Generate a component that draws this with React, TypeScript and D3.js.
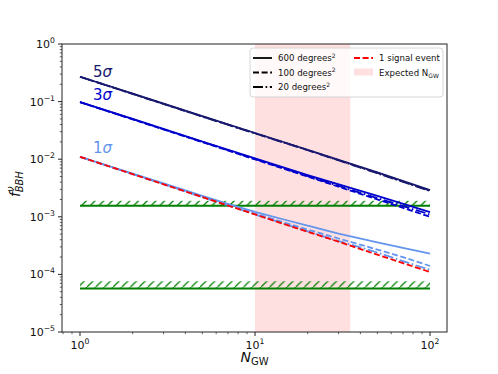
import React from "react";
import * as d3 from "d3";

// ---- data ----
const N = [1, 2, 5, 10, 20, 50, 100];
const Nfine = [1, 2, 3, 5, 7, 10, 15, 20, 30, 50, 70, 100];
const sig5_600 = [0.27, 0.137, 0.056, 0.0285, 0.0146, 0.0059, 0.0029];
const sig5_100 = [0.27, 0.136, 0.055, 0.0282, 0.0144, 0.0058, 0.00285];
const sig5_20 = [0.27, 0.136, 0.055, 0.028, 0.0143, 0.0057, 0.0028];
const sig3_600 = [0.098, 0.05, 0.0203, 0.0103, 0.0053, 0.0023, 0.00121];
const sig3_100 = [0.098, 0.049, 0.0198, 0.0099, 0.005, 0.002, 0.001];
const sig3_20 = [0.098, 0.0495, 0.02, 0.0101, 0.0051, 0.0021, 0.0011];
const sig1_600 = [0.011, 0.0056, 0.0038, 0.0023, 0.00168, 0.00122, 0.00088, 0.0007, 0.00051, 0.00036, 0.00029, 0.00023];
const sig1_100 = [0.011, 0.0055, 0.0037, 0.0022, 0.0016, 0.00113, 0.00078, 0.0006, 0.00042, 0.00027, 0.0002, 0.00014];
const sig1_20 = [0.011, 0.0055, 0.0037, 0.0022, 0.00158, 0.0011, 0.00074, 0.00056, 0.00038, 0.00024, 0.00017, 0.00012];
const oneEvent = [0.011, 0.0055, 0.00367, 0.0022, 0.00157, 0.0011, 0.00073, 0.00055, 0.00037, 0.00022, 0.000157, 0.00011];
const bandUpper = [1.55e-3, 1.9e-3];
const bandLower = [5.7e-5, 7.6e-5];
const bandN = [1, 100];
const expectedN = [10, 35];
const xMajor = [1, 10, 100];
const yMajor = [1e-5, 1e-4, 1e-3, 1e-2, 1e-1, 1];
const sigmaNums = ["5", "3", "1"];

const FONT = "DejaVu Sans, sans-serif";
const L = 62, R = 447, T = 44, B = 332;

export default function App() {
  const x = d3.scaleLog().domain([0.789, 125]).range([L, R]);
  const y = d3.scaleLog().domain([1e-5, 1]).range([B, T]);
  const mkLine = (xs: number[]) =>
    d3
      .line<number>()
      .x((_, i) => x(xs[i]))
      .y((d) => y(d));
  const line = mkLine(N);
  const lineFine = mkLine(Nfine);

  const dashed = "6,2.6";
  const dashdot = "10,2.6,1.6,2.6";
  const c5 = "#191970";
  const c3 = "#0000cd";
  const c1 = "#6495ed";

  const series = [
    { d: sig5_600, c: c5, dash: undefined, f: line },
    { d: sig5_100, c: c5, dash: dashed, f: line },
    { d: sig5_20, c: c5, dash: dashdot, f: line },
    { d: sig3_600, c: c3, dash: undefined, f: line },
    { d: sig3_100, c: c3, dash: dashed, f: line },
    { d: sig3_20, c: c3, dash: dashdot, f: line },
    { d: sig1_600, c: c1, dash: undefined, f: lineFine },
    { d: sig1_100, c: c1, dash: dashed, f: lineFine },
    { d: sig1_20, c: c1, dash: dashdot, f: lineFine },
  ];

  const xMinor: number[] = [];
  for (let e = -1; e <= 2; e++)
    for (let m = 2; m <= 9; m++) {
      const v = m * Math.pow(10, e);
      if (v >= 0.789 && v <= 125) xMinor.push(v);
    }
  const yMinor: number[] = [];
  for (let e = -5; e <= -1; e++)
    for (let m = 2; m <= 9; m++) yMinor.push(m * Math.pow(10, e));

  const supStr = (v: number) => {
    const e = Math.round(Math.log10(v));
    return e < 0 ? "\u2212" + Math.abs(e) : String(e);
  };

  const bands = [bandUpper, bandLower];

  return (
    <svg width={498} height={374} style={{ display: "block", position: "absolute", left: 0, top: 0 }} fontFamily={FONT}>
      <defs>
        <pattern id="hatch" patternUnits="userSpaceOnUse" width={8.7} height={8.7}>
          <line x1={-1} y1={9.7} x2={9.7} y2={-1} stroke="#008000" strokeWidth={1.2} />
        </pattern>
        <clipPath id="plotclip">
          <rect x={L} y={T} width={R - L} height={B - T} />
        </clipPath>
      </defs>
      <rect x={0} y={0} width={498} height={374} fill="white" />
      <g clipPath="url(#plotclip)">
        <rect
          x={x(expectedN[0])}
          y={T}
          width={x(expectedN[1]) - x(expectedN[0])}
          height={B - T}
          fill="#ffe0e0"
        />
        {bands.map((b, i) => (
          <g key={i}>
            <rect
              x={x(bandN[0])}
              y={y(b[1])}
              width={x(bandN[1]) - x(bandN[0])}
              height={y(b[0]) - y(b[1])}
              fill="url(#hatch)"
            />
            <line x1={x(bandN[0])} x2={x(bandN[1])} y1={y(b[0])} y2={y(b[0])} stroke="#008000" strokeWidth={2} />
          </g>
        ))}
        {series.map((s, i) => (
          <path key={i} d={s.f(s.d) || ""} fill="none" stroke={s.c} strokeWidth={1.8} strokeDasharray={s.dash} />
        ))}
        <path d={lineFine(oneEvent) || ""} fill="none" stroke="#ff0000" strokeWidth={1.8} strokeDasharray={dashed} />
      </g>
      {/* sigma labels */}
      {[sig5_600, sig3_600, sig1_600].map((s, i) => (
        <text
          key={i}
          x={x(N[0]) + 13}
          y={y(s[0]) + [0, -2, -4][i]}
          fontSize={15}
          fill={[c5, c3, c1][i]}
        >
          {sigmaNums[i]}
          <tspan fontStyle="italic">σ</tspan>
        </text>
      ))}
      {/* frame */}
      <rect x={L} y={T} width={R - L} height={B - T} fill="none" stroke="#222" strokeWidth={1} />
      {/* x ticks */}
      {xMajor.map((v) => (
        <g key={"xm" + v}>
          <line x1={x(v)} x2={x(v)} y1={B} y2={B + 4} stroke="#222" />
          <text x={x(v)} y={B + 17} textAnchor="middle" fontSize={11} fill="#111">
            10
            <tspan fontSize={7.7} dy={-5}>{supStr(v)}</tspan>
          </text>
        </g>
      ))}
      {xMinor.map((v) => (
        <line key={"xn" + v} x1={x(v)} x2={x(v)} y1={B} y2={B + 2.2} stroke="#222" strokeWidth={0.7} />
      ))}
      {/* y ticks */}
      {yMajor.map((v) => (
        <g key={"ym" + v}>
          <line x1={L} x2={L - 4} y1={y(v)} y2={y(v)} stroke="#222" />
          <text x={L - 7} y={y(v) + 4} textAnchor="end" fontSize={11} fill="#111">
            10
            <tspan fontSize={7.7} dy={-5}>{supStr(v)}</tspan>
          </text>
        </g>
      ))}
      {yMinor.map((v) => (
        <line key={"yn" + v} x1={L} x2={L - 2.2} y1={y(v)} y2={y(v)} stroke="#222" strokeWidth={0.7} />
      ))}
      {/* axis labels */}
      <text x={(L + R) / 2} y={362} textAnchor="middle" fontSize={14} fill="#111">
        <tspan fontStyle="italic">N</tspan>
        <tspan fontSize={10} dy={3}>GW</tspan>
      </text>
      <text transform={`translate(20, ${(T + B) / 2 - 4}) rotate(-90)`} textAnchor="middle" fontSize={14} fill="#111">
        <tspan fontStyle="italic">f</tspan>
        <tspan fontStyle="italic" fontSize={10} dy={-6}>ν</tspan>
        <tspan fontStyle="italic" fontSize={10} dx={-6} dy={9}>BBH</tspan>
      </text>
      {/* legend */}
      <g>
        <rect x={250} y={48} width={193} height={49} rx={3} fill="white" fillOpacity={0.8} stroke="#cccccc" strokeWidth={0.8} />
        {[
          { dash: undefined, label: "600 degrees" },
          { dash: dashed, label: "100 degrees" },
          { dash: dashdot, label: "20 degrees" },
        ].map((e, i) => (
          <g key={i}>
            <line x1={253} x2={272} y1={58 + i * 14.5} y2={58 + i * 14.5} stroke="black" strokeWidth={1.8} strokeDasharray={e.dash} />
            <text x={278} y={58 + i * 14.5 + 3} fontSize={8.6} fill="#111">
              {e.label}
              <tspan fontSize={6} dy={-3.5}>2</tspan>
            </text>
          </g>
        ))}
        <line x1={354} x2={373} y1={58} y2={58} stroke="#ff0000" strokeWidth={1.8} strokeDasharray={dashed} />
        <text x={379} y={61} fontSize={8.6} fill="#111">1 signal event</text>
        <rect x={354} y={68.5} width={19} height={7} fill="#ffe0e0" />
        <text x={379} y={75.5} fontSize={8.6} fill="#111">
          Expected N<tspan fontSize={6} dy={2}>GW</tspan>
        </text>
      </g>
    </svg>
  );
}
